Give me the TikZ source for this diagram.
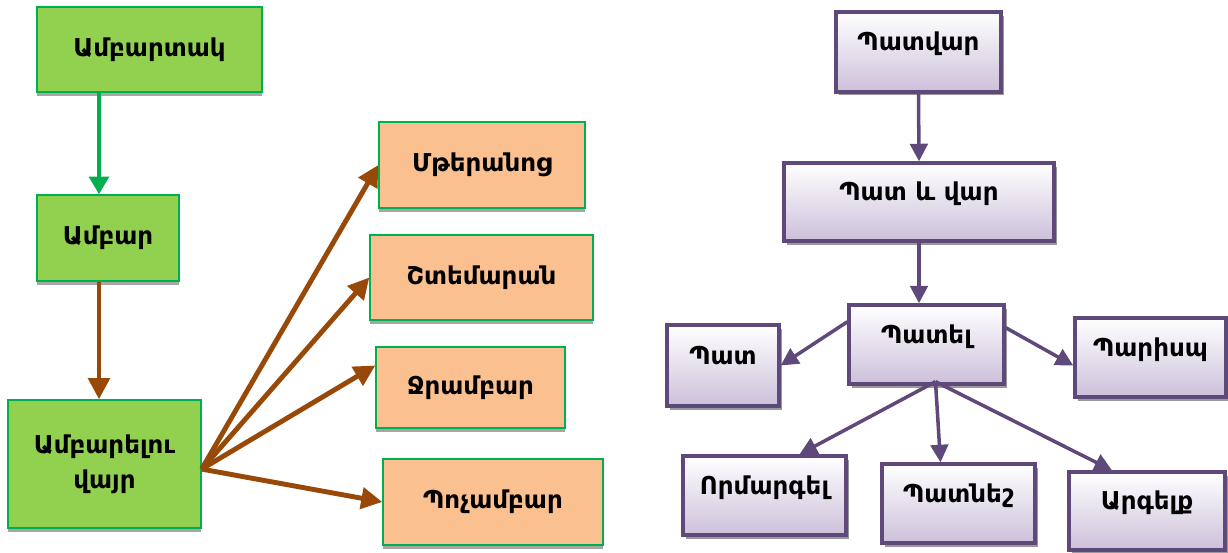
\documentclass[tikz,border=0pt]{standalone}
\usepackage{fontspec}
\setmainfont{DejaVu Sans}
\usetikzlibrary{arrows.meta}
\usetikzlibrary{shadows}

\definecolor{grfill}{HTML}{92D050}
\definecolor{grline}{HTML}{00B050}
\definecolor{orfill}{HTML}{FAC090}
\definecolor{brarrow}{HTML}{984807}
\definecolor{puline}{HTML}{5F497A}
\definecolor{pufill}{HTML}{CCC0DA}

\begin{document}
\begin{tikzpicture}[x=0.02cm, y=-0.02cm,
    every node/.style={font=\bfseries\fontsize{14}{20}\selectfont, align=center},
    grbox/.style={draw=grline, line width=0.8pt, fill=grfill,
        drop shadow={shadow xshift=0pt, shadow yshift=-2.5pt, fill=black!35, opacity=1}},
    orbox/.style={draw=grline, line width=0.8pt, fill=orfill,
        drop shadow={shadow xshift=0pt, shadow yshift=-2.5pt, fill=black!35, opacity=1}},
    pubox/.style={draw=puline, line width=1.9pt, top color=white, bottom color=pufill,
        text height=0.4cm, text depth=0.45cm,
        drop shadow={shadow xshift=1.8pt, shadow yshift=-2pt, fill=black!40, opacity=1}},
    grarr/.style={grline, line width=2.6pt, -{Triangle[length=10pt,width=11pt]}},
    brarr/.style={brarrow, line width=2.8pt, -{Triangle[length=12pt,width=12pt]}},
    puarr/.style={puline, line width=2pt, -{Triangle[length=10pt,width=10pt]}}]
    \useasboundingbox (0,0) rectangle (1228,553);

    % 左图
    \node[grbox, minimum width=4.5cm, minimum height=1.7cm] (ambartak) at (149.5,49.5) {Ամբարտակ};
    \node[grbox, minimum width=2.84cm, minimum height=1.72cm] (ambar) at (108,238) {Ամբար};
    \node[grbox, minimum width=3.86cm, minimum height=2.56cm] (ambarelu) at (104.5,464) {Ամբարելու\\վայր};
    \node[orbox, minimum width=4.12cm, minimum height=1.72cm] (mteranoc) at (482,165) {Մթերանոց};
    \node[orbox, minimum width=4.46cm, minimum height=1.7cm] (shtemaran) at (481.5,277.5) {Շտեմարան};
    \node[orbox, minimum width=3.78cm, minimum height=1.62cm] (jrambar) at (470.5,387.5) {Ջրամբար};
    \node[orbox, minimum width=4.4cm, minimum height=1.72cm] (pochambar) at (493,502) {Պոչամբար};

    \coordinate (g1) at ([xshift=-0.18cm]ambar.north);
    \coordinate (b1) at ([xshift=-0.18cm]ambar.south);
    \draw[grarr] (g1 |- ambartak.south) -- (g1);
    \draw[brarr] (b1) -- (b1 |- ambarelu.north);
    \draw[brarr] (ambarelu.-3) -- (mteranoc.west);
    \draw[brarr] (ambarelu.-3) -- (shtemaran.west);
    \draw[brarr] (ambarelu.-3) -- (jrambar.167);
    \draw[brarr] (ambarelu.-3) -- (pochambar.west);

    % 右图
    \node[pubox, minimum width=3.3cm, minimum height=1.6cm] (patvar) at (918.5,52) {Պատվար};
    \node[pubox, minimum width=5.4cm, minimum height=1.56cm] (patevar) at (919,202) {Պատ և վար};
    \node[pubox, minimum width=3.1cm, minimum height=1.58cm] (patel) at (926.5,344.5) {Պատել};
    \node[pubox, minimum width=2.24cm, minimum height=1.62cm] (pat) at (723,365.5) {Պատ};
    \node[pubox, minimum width=3.02cm, minimum height=1.58cm] (parisp) at (1150.5,357.5) {Պարիսպ};
    \node[pubox, minimum width=3.26cm, minimum height=1.58cm] (ormargel) at (764.5,495.5) {Որմարգել};
    \node[pubox, minimum width=3.06cm, minimum height=1.58cm] (patnesh) at (958.5,503.5) {Պատնեշ};
    \node[pubox, minimum width=3.12cm, minimum height=1.56cm] (argelq) at (1147,511) {Արգելք};

    \draw[puarr] (patvar.south) -- (patevar.north);
    \draw[puarr] (patevar.south) -- (patevar.south |- patel.north);
    \draw[puarr] (patel.164) -- (pat.east);
    \draw[puarr] (patel.12) -- (parisp.186);
    \coordinate (p1) at ([xshift=0.18cm, yshift=0.08cm]patel.south);
    \draw[puarr] (p1) -- ([xshift=0.7cm]ormargel.north);
    \draw[puarr] (p1) -- ([xshift=-0.36cm]patnesh.north);
    \draw[puarr] (p1) -- ([xshift=-0.7cm]argelq.north);
\end{tikzpicture}
\end{document}
